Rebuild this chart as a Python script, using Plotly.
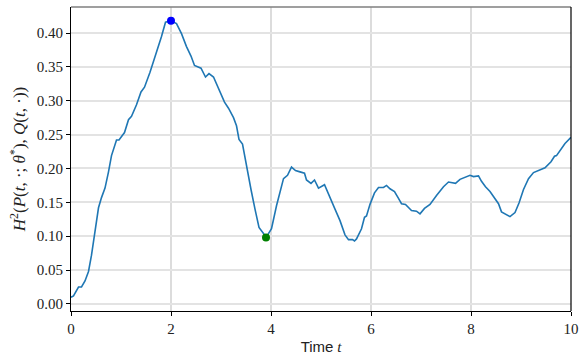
import plotly.graph_objects as go

# Time values (t) and Hellinger-squared distance values
t_vals = [0.00, 0.05, 0.15, 0.21, 0.28, 0.35, 0.41, 0.48, 0.55, 0.61, 0.68, 0.75, 0.81, 0.91, 0.96,
          1.07, 1.15, 1.21, 1.31, 1.40, 1.47, 1.58, 1.69, 1.81, 1.89, 2.00,
          2.11, 2.21, 2.31, 2.40, 2.47, 2.60, 2.69, 2.76, 2.85, 2.95, 3.07, 3.15, 3.25, 3.31,
          3.36, 3.43, 3.51, 3.60, 3.68, 3.76, 3.85, 3.90,
          4.01, 4.11, 4.25, 4.33, 4.41, 4.49, 4.58, 4.67, 4.71, 4.80, 4.87, 4.95, 5.07, 5.18,
          5.28, 5.38, 5.48, 5.55, 5.63, 5.67, 5.71, 5.81, 5.87, 5.91, 5.98,
          6.07, 6.15, 6.25, 6.31, 6.38, 6.47, 6.55, 6.61, 6.69, 6.81, 6.91, 6.98, 7.07, 7.18,
          7.31, 7.45, 7.55, 7.69, 7.78, 7.88, 7.98, 8.05, 8.15, 8.21, 8.29, 8.38, 8.47, 8.55,
          8.61, 8.71, 8.78, 8.88, 8.96, 9.05, 9.15, 9.25, 9.35, 9.48, 9.60, 9.67, 9.71, 9.78,
          9.88, 10.00]
h2_vals = [0.010, 0.012, 0.025, 0.025, 0.034, 0.048, 0.072, 0.106, 0.142, 0.157, 0.171, 0.195, 0.219, 0.242, 0.242,
           0.253, 0.272, 0.277, 0.294, 0.313, 0.320, 0.342, 0.366, 0.395, 0.416, 0.418,
           0.414, 0.399, 0.380, 0.366, 0.352, 0.348, 0.335, 0.340, 0.335, 0.318, 0.298, 0.289, 0.275, 0.263,
           0.243, 0.236, 0.202, 0.169, 0.140, 0.113, 0.104, 0.098,
           0.111, 0.145, 0.185, 0.190, 0.202, 0.197, 0.195, 0.193, 0.183, 0.178, 0.183, 0.171, 0.176, 0.156,
           0.140, 0.123, 0.102, 0.095, 0.095, 0.093, 0.096, 0.111, 0.128, 0.130, 0.147,
           0.164, 0.172, 0.172, 0.175, 0.170, 0.166, 0.156, 0.148, 0.147, 0.138, 0.137, 0.133, 0.141, 0.147,
           0.160, 0.173, 0.180, 0.178, 0.184, 0.187, 0.190, 0.188, 0.189, 0.181, 0.173, 0.166, 0.156, 0.148,
           0.136, 0.132, 0.129, 0.135, 0.149, 0.169, 0.185, 0.194, 0.197, 0.201, 0.210, 0.218, 0.219, 0.227,
           0.237, 0.246]

max_t, max_v = [2.00], [0.418]
min_t, min_v = [3.90], [0.098]

x_ticks = [0, 2, 4, 6, 8, 10]
y_ticks = [0.00, 0.05, 0.10, 0.15, 0.20, 0.25, 0.30, 0.35, 0.40]

serif = "Liberation Serif"

fig = go.Figure()
fig.add_trace(go.Scatter(x=t_vals, y=h2_vals, mode="lines",
                         line=dict(color="#1f77b4", width=1.6), showlegend=False))
fig.add_trace(go.Scatter(x=max_t, y=max_v, mode="markers",
                         marker=dict(color="blue", size=8), showlegend=False))
fig.add_trace(go.Scatter(x=min_t, y=min_v, mode="markers",
                         marker=dict(color="green", size=8), showlegend=False))

fig.update_layout(
    width=587, height=360,
    margin=dict(l=71, r=16, t=7, b=43),
    paper_bgcolor="white", plot_bgcolor="white",
    font=dict(family=serif, size=15, color="#222222"),
    xaxis=dict(range=[0, 10], tickvals=x_ticks, ticktext=[str(v) for v in x_ticks],
               tickfont=dict(family=serif, size=15, color="#222222"),
               showgrid=True, gridcolor="#dcdcdc", gridwidth=1.5,
               showline=True, linecolor="black", linewidth=1.2, mirror=False,
               ticks="outside", ticklen=4, tickcolor="black", zeroline=False,
               title=dict(text="<span style='font-family:Liberation Sans'>Time</span> <i>t</i>",
                          font=dict(family=serif, size=15, color="#222222"), standoff=5)),
    yaxis=dict(range=[-0.0104, 0.4384], tickvals=y_ticks, ticktext=[f"{v:.2f}" for v in y_ticks],
               tickfont=dict(family=serif, size=15, color="#222222"),
               showgrid=True, gridcolor="#e3e3e3", gridwidth=1.5,
               showline=True, linecolor="black", linewidth=1.2, mirror=False,
               ticks="outside", ticklen=4, tickcolor="black", zeroline=False,
               title=dict(text="<i>H</i><sup>2</sup>(<i>P</i>(<i>t</i>, ·; <i>θ</i><sup>*</sup>), <i>Q</i>(<i>t</i>, ·))",
                          font=dict(family=serif, size=17, color="#222222"), standoff=6)),
)
# top (gray) and right (black) frame lines
fig.add_shape(type="line", xref="paper", yref="paper", x0=0, x1=1, y0=1, y1=1,
              line=dict(color="#7f7f7f", width=1.5))
fig.add_shape(type="line", xref="paper", yref="paper", x0=1, x1=1, y0=0, y1=1,
              line=dict(color="black", width=1.2))

fig.write_html("out.html")
